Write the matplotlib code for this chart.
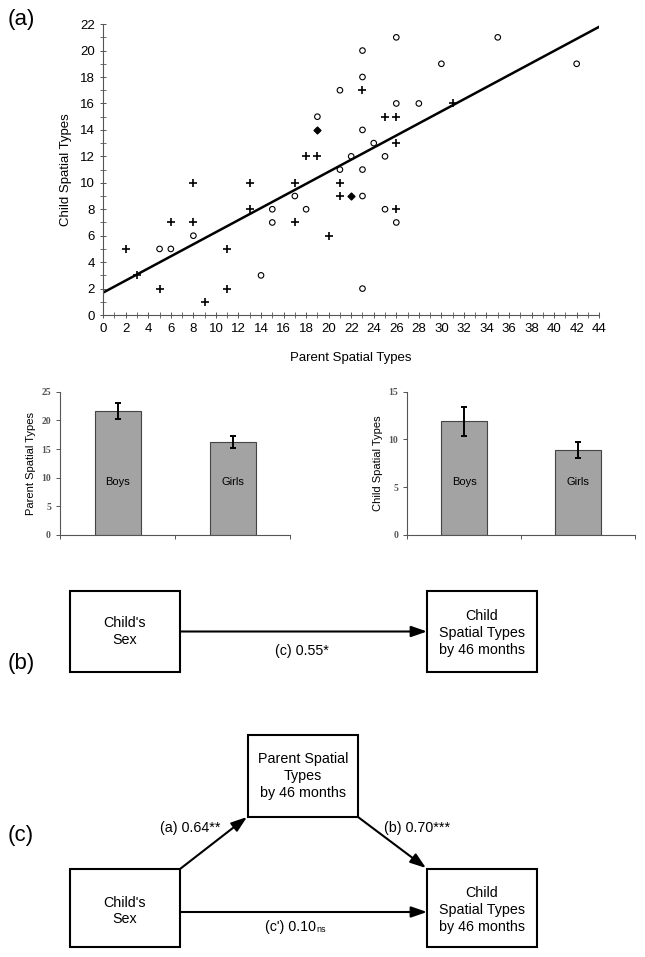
import matplotlib
matplotlib.use("Agg")
import matplotlib.pyplot as plt
import matplotlib.patches as patches
from matplotlib.ticker import MultipleLocator
import numpy as np

plt.rcParams['font.family'] = ['Liberation Sans', 'DejaVu Sans']

#scatter data: parent vs child spatial types
girls_x = [5, 6, 8, 14, 15, 15, 17, 18, 19, 21, 21, 22, 23, 23, 23, 23, 23, 23, 24, 25, 25, 26, 26, 26, 28, 30, 35, 42]
girls_y = [5, 5, 6, 3, 8, 7, 9, 8, 15, 17, 11, 12, 20, 18, 14, 11, 9, 2, 13, 12, 8, 21, 16, 7, 16, 19, 21, 19]
boys_x = [2, 3, 5, 6, 8, 8, 9, 11, 11, 13, 13, 17, 17, 18, 19, 20, 21, 21, 23, 25, 26, 26, 26, 31]
boys_y = [5, 3, 2, 7, 10, 7, 1, 5, 2, 10, 8, 10, 7, 12, 12, 6, 10, 9, 17, 15, 15, 13, 8, 16]
both_x = [19, 22]
both_y = [14, 9]
fit_x = [0, 44]
fit_y = [1.7, 21.8]

#bar data
sexes = ["Boys", "Girls"]
parent_means = [21.6, 16.2]
parent_err = [1.4, 1.05]
child_means = [11.9, 8.9]
child_err = [1.5, 0.85]

fig = plt.figure(figsize=(6.45, 9.57), dpi=100)

#_____ (a) scatter _____
ax = fig.add_axes([0.160, 0.6708, 0.769, 0.304])
ax.scatter(girls_x, girls_y, s=16, facecolors='none', edgecolors='black', linewidths=0.8, zorder=3)
ax.scatter(boys_x, boys_y, s=40, marker='+', color='black', linewidths=1.2, zorder=3)
ax.scatter(both_x, both_y, s=12, marker='D', color='black', zorder=3)
ax.plot(fit_x, fit_y, color='black', lw=1.8)
ax.set_xlim(0, 44)
ax.set_ylim(0, 22)
ax.xaxis.set_major_locator(MultipleLocator(2))
ax.xaxis.set_minor_locator(MultipleLocator(1))
ax.yaxis.set_major_locator(MultipleLocator(2))
ax.yaxis.set_minor_locator(MultipleLocator(1))
ax.tick_params(which='major', direction='inout', length=5, width=0.7, labelsize=9.5, colors='#555555', labelcolor='black')
ax.tick_params(which='minor', direction='inout', length=4, width=0.6, colors='#555555')
ax.spines['top'].set_visible(False)
ax.spines['right'].set_visible(False)
for s in ['left', 'bottom']:
    ax.spines[s].set_color('#555555')
    ax.spines[s].set_linewidth(0.8)
ax.set_xlabel("Parent Spatial Types", fontsize=9.5, labelpad=12)
ax.set_ylabel("Child Spatial Types", fontsize=9.5, labelpad=6)

#_____ bar charts _____
def bar_panel(rect, means, err, ymax, label):
    bx = fig.add_axes(rect)
    pos = np.arange(len(sexes))
    bx.bar(pos, means, width=0.4, color='#a3a3a3', edgecolor='#444444', linewidth=0.8,
           yerr=err, error_kw=dict(ecolor='black', elinewidth=1.4, capsize=2.5, capthick=1.4))
    for p, name in zip(pos, sexes):
        bx.text(p, ymax * 0.37, name, ha='center', va='center', fontsize=8)
    bx.set_xlim(-0.5, 1.5)
    bx.set_ylim(0, ymax)
    ticks = np.arange(0, ymax + 1, 5)
    bx.set_yticks(ticks)
    bx.set_yticklabels([str(int(v)) for v in ticks],
                       family='Liberation Serif', fontweight='bold', fontsize=7)
    bx.set_xticks([-0.5, 0.5, 1.5])
    bx.set_xticklabels([])
    bx.tick_params(length=3, width=0.7, colors='#555555')
    bx.spines['top'].set_visible(False)
    bx.spines['right'].set_visible(False)
    for s in ['left', 'bottom']:
        bx.spines[s].set_color('#555555')
        bx.spines[s].set_linewidth(0.8)
    bx.set_ylabel(label, fontsize=8, labelpad=4)
    return bx

bar_panel([0.093, 0.441, 0.357, 0.1497], parent_means, parent_err, 25, "Parent Spatial Types")
bar_panel([0.6315, 0.441, 0.3526, 0.1497], child_means, child_err, 15, "Child Spatial Types")

#_____ (b) and (c) path diagrams, pixel coords _____
ad = fig.add_axes([0, 0, 1, 1])
ad.set_xlim(0, 645)
ad.set_ylim(957, 0)
ad.axis('off')

def box(x0, y0, x1, y1, text, tx=None, ty=None):
    ad.add_patch(patches.Rectangle((x0, y0), x1 - x0, y1 - y0, fill=False, lw=1.5, edgecolor='black'))
    ad.text((x0 + x1) / 2 if tx is None else tx, (y0 + y1) / 2 if ty is None else ty, text,
            ha='center', va='center', fontsize=10.3, linespacing=1.25)

def arrow(x0, y0, x1, y1):
    ad.annotate("", xy=(x1, y1), xytext=(x0, y0),
                arrowprops=dict(arrowstyle='-|>,head_length=0.95,head_width=0.33', mutation_scale=10,
                                lw=1.5, color='black', shrinkA=0, shrinkB=0))

box(70, 591, 180, 672, "Child's\nSex")
box(427, 591, 537, 672, "Child\nSpatial Types\nby 46 months", ty=633)
arrow(180, 631.5, 427, 631.5)
ad.text(302, 651, "(c) 0.55*", ha='center', va='center', fontsize=10.3)

box(248, 735, 358, 817, "Parent Spatial\nTypes\nby 46 months", ty=776)
box(70, 869, 180, 947, "Child's\nSex", ty=911)
box(427, 869, 537, 947, "Child\nSpatial Types\nby 46 months", ty=910)
arrow(180, 869, 247, 817)
arrow(358, 817, 426, 868)
arrow(180, 912, 427, 912)
ad.text(190, 828, "(a) 0.64**", ha='center', va='center', fontsize=10.3)
ad.text(417, 828, "(b) 0.70***", ha='center', va='center', fontsize=10.3)
ad.text(316, 927, "(c') 0.10", ha='right', va='center', fontsize=10.3)
ad.text(316, 929, "ns", ha='left', va='center', fontsize=6.5)

fig.text(8 / 645, 1 - 20 / 957, "(a)", fontsize=16, ha='left', va='center')
fig.text(8 / 645, 1 - 663 / 957, "(b)", fontsize=16, ha='left', va='center')
fig.text(8 / 645, 1 - 835 / 957, "(c)", fontsize=16, ha='left', va='center')

fig.savefig("out.png", dpi=100)
